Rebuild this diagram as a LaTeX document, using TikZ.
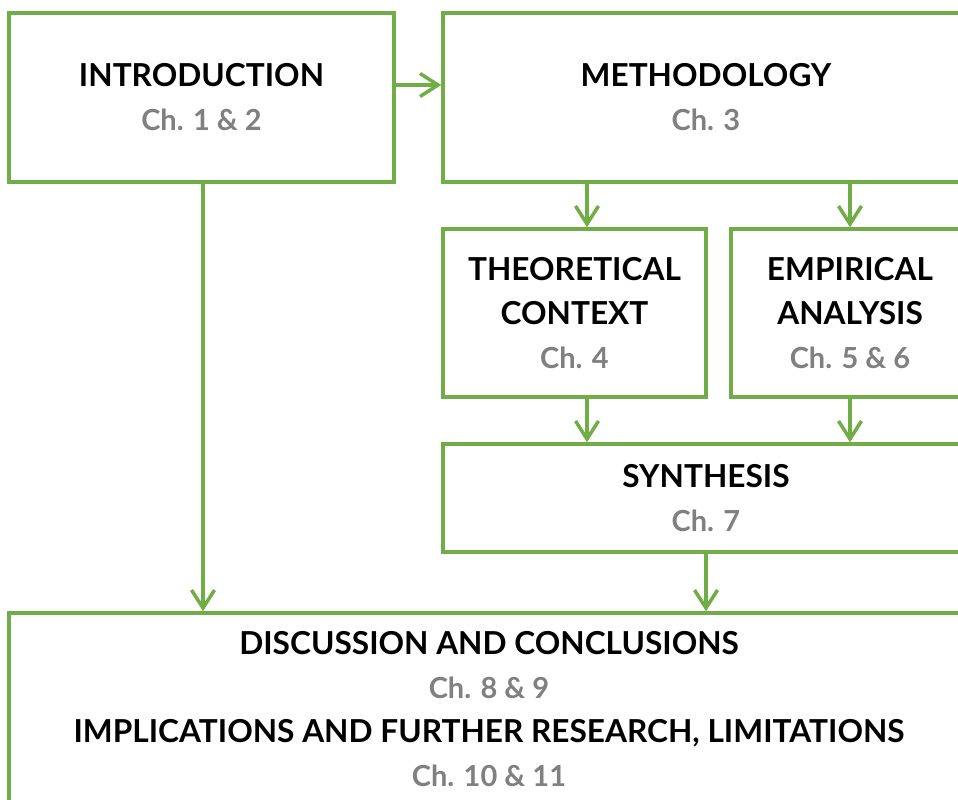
\documentclass[tikz,border=0pt]{standalone}
\usepackage{fontspec}
\setmainfont{Lato}
\usepackage{tikz}
\usetikzlibrary{arrows.meta}
\definecolor{officegreen}{HTML}{70AD47}
\newcommand{\chap}[1]{{\color{gray}\fontsize{16.5}{25}\selectfont #1}}

\begin{document}
\begin{tikzpicture}[x=0.02cm, y=-0.02cm,
    box/.style={draw=officegreen, line width=2pt, align=center, inner sep=0pt,
                font=\bfseries\fontsize{18}{25}\selectfont},
    arr/.style={draw=officegreen, line width=2pt,
                -{Straight Barb[length=0.36cm, width=0.46cm, line width=2pt]}}]
            % Frame
            \clip (0,0) rectangle (958,800);

            % Top row
            \node [box, minimum width=7.7cm, minimum height=3.38cm] (intro) at (201.5,97.5)
                {INTRODUCTION\\ \chap{Ch. 1 \& 2}};
            \node [box, minimum width=10.52cm, minimum height=3.38cm] (method) at (706,97.5)
                {METHODOLOGY\\ \chap{Ch. 3}};

            % Middle row
            \node [box, minimum width=5.26cm, minimum height=3.36cm] (theory) at (574.5,313)
                {THEORETICAL\\ CONTEXT\\ \chap{Ch. 4}};
            \node [box, minimum width=4.76cm, minimum height=3.36cm] (empiric) at (850,313)
                {EMPIRICAL\\ ANALYSIS\\ \chap{Ch. 5 \& 6}};
            \node [box, minimum width=10.52cm, minimum height=2.16cm] (synth) at (706,498)
                {SYNTHESIS\\ \chap{Ch. 7}};

            % Bottom box
            \node [box, minimum width=19.2cm, minimum height=3.84cm] (discuss) at (489,709)
                {DISCUSSION AND CONCLUSIONS\\ \chap{Ch. 8 \& 9}\\
                 IMPLICATIONS AND FURTHER RESEARCH, LIMITATIONS\\ \chap{Ch. 10 \& 11}};

            % Arrows
            \draw [arr] (intro.east |- 0,85) -- (method.west |- 0,85);
            \draw [arr] (method.south -| 587,0) -- (theory.north -| 587,0);
            \draw [arr] (method.south -| empiric.north) -- (empiric.north);
            \draw [arr] (theory.south -| 587,0) -- (synth.north -| 587,0);
            \draw [arr] (empiric.south) -- (synth.north -| empiric.south);
            \draw [arr] (synth.south) -- (discuss.north -| synth.south);
            \draw [arr] (intro.south -| 203,0) -- (discuss.north -| 203,0);
        \end{tikzpicture}
\end{document}
